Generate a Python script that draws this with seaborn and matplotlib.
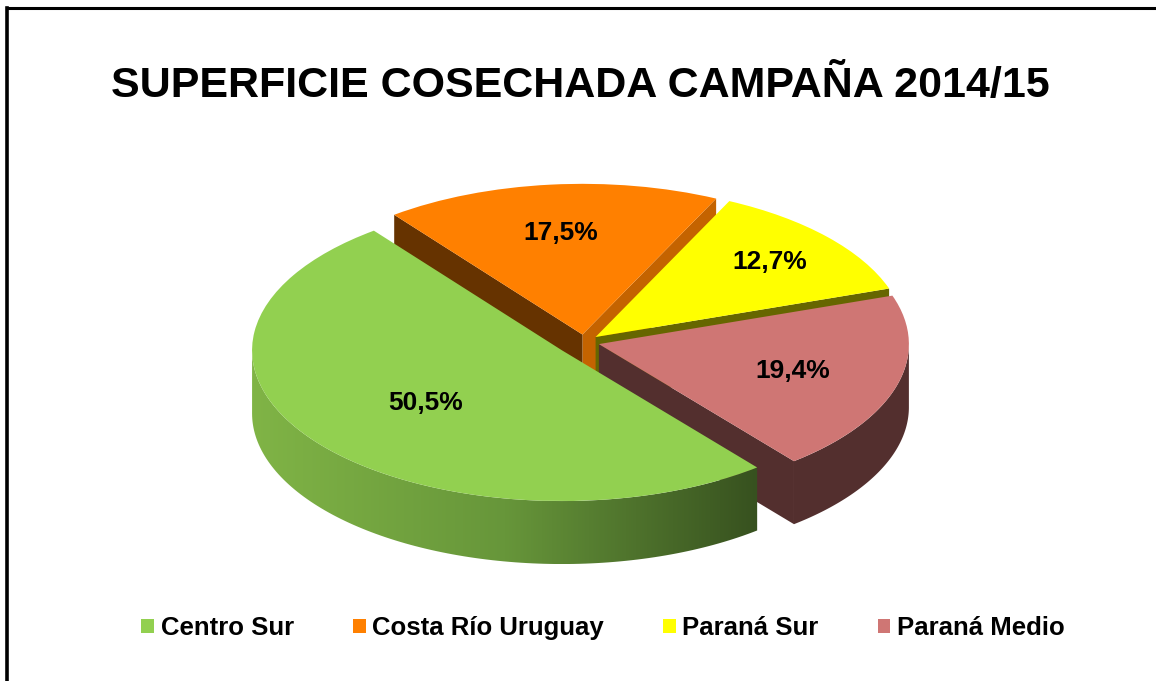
import numpy as np
import matplotlib
matplotlib.use("Agg")
import matplotlib.pyplot as plt
import seaborn as sns
from matplotlib.patches import Polygon, Patch
from matplotlib.lines import Line2D
from matplotlib.colors import LinearSegmentedColormap, to_rgb

# ---------------- data ----------------
categories = ["Centro Sur", "Costa Río Uruguay", "Paraná Sur", "Paraná Medio"]
shares = [50.5, 17.5, 12.7, 19.4]
pct_labels = ["50,5%", "17,5%", "12,7%", "19,4%"]
title = "SUPERFICIE COSECHADA CAMPAÑA 2014/15"

# ---------------- style ----------------
top_colors = ["#92d050", "#ff8000", "#ffff00", "#cf7674"]
explode_frac = [0.09, 0.05, 0.05, 0.05]
label_r = [0.56, 0.68, 0.75, 0.65]
green_side_stops = ["#80b446", "#67963a", "#37511f"]

sns.set_theme(style="white")
plt.rcParams['font.family'] = ['Liberation Sans', 'DejaVu Sans']
plt.rcParams['text.color'] = 'black'

W, H = 1156, 681
fig = plt.figure(figsize=(W / 100, H / 100), dpi=100)
fig.patch.set_facecolor("white")
ax = fig.add_axes([0, 0, 1, 1])

K = 0.486                # vertical squash of the tilted pie
depth = 63 / K           # thickness of the pie (data units)
R = 310
cx, cy = 584, (H - 342) / K

wedges, _ = ax.pie(shares, colors=top_colors,
                   explode=[e * R for e in explode_frac],
                   startangle=-51, counterclock=False, radius=R,
                   center=(cx, cy), wedgeprops=dict(linewidth=0))
ax.set_aspect('auto')
ax.set_xlim(0, W)
ax.set_ylim(0, H / K)
ax.axis('off')


def shade(c, f):
    r, g, b = to_rgb(c)
    return (r * f, g * f, b * f)


def arc_pts(c, r, a0, a1, n=120):
    t = np.radians(np.linspace(a0, a1, n))
    return np.column_stack([c[0] + r * np.cos(t), c[1] + r * np.sin(t)])


def side_faces(w):
    c = np.array(w.center, dtype=float)
    r, t1, t2 = w.r, w.theta1, w.theta2
    faces = []
    for k in (-720, -360, 0, 360):
        a0, a1 = max(t1, 180 + k), min(t2, 360 + k)
        if a1 > a0:
            top = arc_pts(c, r, a0, a1)
            bot = top[::-1] - np.array([0, depth])
            faces.append(("band", np.vstack([top, bot])))
    for name, t, vis in (("t1", t1, np.cos(np.radians(t1)) > 0),
                         ("t2", t2, np.cos(np.radians(t2)) < 0)):
        if vis:
            p = c + r * np.array([np.cos(np.radians(t)), np.sin(np.radians(t))])
            quad = np.array([c, p, p - [0, depth], c - [0, depth]])
            faces.append((name, quad))
    return faces


face_factor = {1: {"t1": 0.77}}
order = sorted(range(len(wedges)), key=lambda i: -wedges[i].center[1])
for z, i in enumerate(order):
    w = wedges[i]
    w.set_zorder(10 + z)
    for name, verts in side_faces(w):
        zo = 2 + z * 0.1
        if i == 0 and name == "band":
            poly = Polygon(verts, closed=True, facecolor="none",
                           edgecolor="none", transform=ax.transData, zorder=zo)
            ax.add_patch(poly)
            cmap = LinearSegmentedColormap.from_list("gside", green_side_stops)
            x0, x1 = verts[:, 0].min(), verts[:, 0].max()
            y0, y1 = verts[:, 1].min(), verts[:, 1].max()
            grad = np.linspace(0, 1, 256)[None, :]
            im = ax.imshow(grad, cmap=cmap, extent=(x0, x1, y0, y1),
                           aspect='auto', zorder=zo, interpolation='bilinear')
            im.set_clip_path(poly)
        else:
            f = face_factor.get(i, {}).get(name, 0.4)
            ax.add_patch(Polygon(verts, closed=True, facecolor=shade(top_colors[i], f),
                                 edgecolor="none", linewidth=0, zorder=zo))

ax.set_xlim(0, W)
ax.set_ylim(0, H / K)

for i, w in enumerate(wedges):
    tm = np.radians(0.5 * (w.theta1 + w.theta2))
    x = w.center[0] + label_r[i] * R * np.cos(tm)
    y = w.center[1] + label_r[i] * R * np.sin(tm)
    ax.text(x, y, pct_labels[i], ha='center', va='center', fontsize=19,
            fontweight='bold', color='black', zorder=30)

fig.text(580 / W, 1 - 86 / H, title, ha='center', va='center',
         fontsize=31, fontweight='bold', color='black')

handles = [Patch(facecolor=c, edgecolor='none') for c in top_colors]
leg = fig.legend(handles, categories, loc='center', bbox_to_anchor=(603 / W, 1 - 628 / H),
                 ncol=4, frameon=False, prop=dict(size=18.5, weight='bold'),
                 handlelength=0.5, handleheight=0.5, handletextpad=0.25,
                 columnspacing=2.3, borderaxespad=0)
for t in leg.get_texts():
    t.set_color('black')

fig.add_artist(Line2D([7.2 / W, 7.2 / W], [0, 1 - 8.2 / H], color='black',
                      lw=2.6, transform=fig.transFigure, solid_capstyle='projecting'))
fig.add_artist(Line2D([7.2 / W, 1], [1 - 8.2 / H, 1 - 8.2 / H], color='black',
                      lw=2.2, transform=fig.transFigure, solid_capstyle='projecting'))

fig.savefig("out.png", dpi=100, facecolor="white")
